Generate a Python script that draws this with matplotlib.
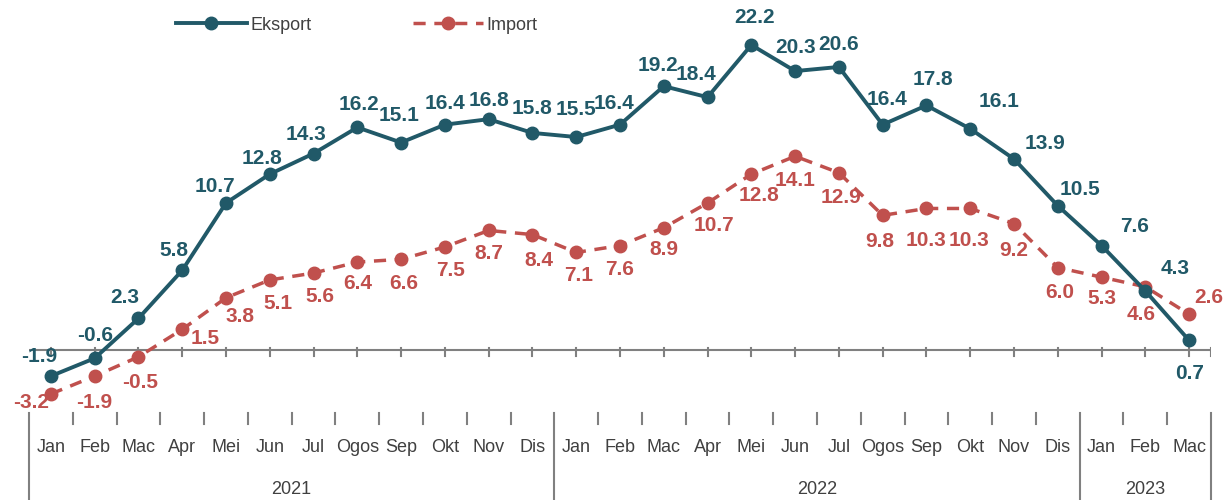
import matplotlib
matplotlib.use("Agg")
import matplotlib.pyplot as plt
from matplotlib.lines import Line2D

# --- data ---
months = ["Jan", "Feb", "Mac", "Apr", "Mei", "Jun", "Jul", "Ogos", "Sep", "Okt", "Nov", "Dis",
          "Jan", "Feb", "Mac", "Apr", "Mei", "Jun", "Jul", "Ogos", "Sep", "Okt", "Nov", "Dis",
          "Jan", "Feb", "Mac"]
years = ["2021", "2022", "2023"]
year_len = [12, 12, 3]
eksport = [-1.9, -0.6, 2.3, 5.8, 10.7, 12.8, 14.3, 16.2, 15.1, 16.4, 16.8, 15.8,
           15.5, 16.4, 19.2, 18.4, 22.2, 20.3, 20.6, 16.4, 17.8, 16.1, 13.9, 10.5,
           7.6, 4.3, 0.7]
import_ = [-3.2, -1.9, -0.5, 1.5, 3.8, 5.1, 5.6, 6.4, 6.6, 7.5, 8.7, 8.4,
           7.1, 7.6, 8.9, 10.7, 12.8, 14.1, 12.9, 9.8, 10.3, 10.3, 9.2, 6.0,
           5.3, 4.6, 2.6]

# label offsets in pixels (dx, dy) relative to the point
eks_off = [(-12, 20), (0, 23), (-14, 21), (-8, 20), (-11, 16), (-8, 16), (-8, 19), (2, 23),
           (-2, 27), (0, 21), (0, 19), (0, 24), (0, 28), (-6, 21), (-6, 21), (-12, 23),
           (3, 27), (0, 24), (0, 22), (4, 25), (6, 26), (29, 27), (31, 16), (22, 16),
           (33, 19), (30, 22), (0, -33)]
imp_off = [(-20, -9), (0, -26), (2, -26), (23, -9), (14, -19), (8, -24), (6, -23), (0, -21),
           (3, -24), (6, -24), (0, -23), (6, -26), (2, -23), (0, -24), (0, -22), (6, -23),
           (8, -21), (0, -24), (2, -25), (-3, -26), (0, -32), (-1, -32), (0, -27), (2, -25),
           (0, -21), (-4, -28), (20, 17)]

teal = "#215968"
red = "#C0504D"
grey = "#808080"
txt = "#404040"

plt.rcParams["font.family"] = ["Liberation Sans Narrow", "Liberation Sans", "DejaVu Sans"]

fig = plt.figure(figsize=(12.32, 5), dpi=100)
ax = fig.add_axes([29 / 1232, 0, (1211 - 29) / 1232, 1])
x = list(range(len(months)))
px = 13.74  # pixels per unit
ax.set_xlim(-0.5, len(months) - 0.5)
ax.set_ylim(-150 / px, 350 / px)
ax.axis("off")

# zero line + ticks
ax.plot([-0.5, len(months) - 0.5], [0, 0], color=grey, lw=1.5, zorder=1)
for i in x + [len(months) - 0.5]:
    ax.plot([i, i], [2 / px, -6 / px], color=grey, lw=1.5, zorder=1)

ax.plot(x, eksport, color=teal, lw=2.8, marker="o", ms=9, zorder=3, label="Eksport")
ax.plot(x, import_, color=red, lw=2.5, ls=(0, (3.5, 2.5)), marker="o", ms=9, zorder=2,
        label="Import")

for i, v in enumerate(eksport):
    ax.annotate(f"{v:.1f}", (i, v), xytext=eks_off[i], textcoords="offset pixels",
                ha="center", va="center", color=teal, fontsize=15, fontweight="bold")
for i, v in enumerate(import_):
    ax.annotate(f"{v:.1f}", (i, v), xytext=imp_off[i], textcoords="offset pixels",
                ha="center", va="center", color=red, fontsize=15, fontweight="bold")

# category axis below
tr = ax.get_xaxis_transform()
for i, m in enumerate(months):
    ax.text(i, 1 - 447 / 500, m, transform=tr, ha="center", va="center", color=txt,
            fontsize=13)
start = 0
bounds = [-0.5]
for y, n in zip(years, year_len):
    ax.text(start + (n - 1) / 2, 1 - 490 / 500, y, transform=tr, ha="center", va="center",
            color=txt, fontsize=13)
    start += n
    bounds.append(start - 0.5)
for b in bounds:
    ax.plot([b, b], [1 - 413 / 500, 0], transform=tr, color=grey, lw=1.5, clip_on=False)
for i in range(len(months) - 1):
    if i + 0.5 not in bounds:
        ax.plot([i + 0.5, i + 0.5], [1 - 413 / 500, 1 - 424 / 500], transform=tr,
                color=grey, lw=1.5)

handles = [Line2D([], [], color=teal, lw=2.8, marker="o", ms=9),
           Line2D([], [], color=red, lw=2.5, ls=(0, (3.5, 2.5)), marker="o", ms=9)]
leg = fig.legend(handles, ["Eksport", "Import"], loc="center left",
                 bbox_to_anchor=(160 / 1232, 1 - 25 / 500), ncol=2, frameon=False,
                 fontsize=13, handlelength=3.9, handletextpad=0.2, columnspacing=5.6,
                 labelcolor=txt)

fig.savefig("out.png", dpi=100)
